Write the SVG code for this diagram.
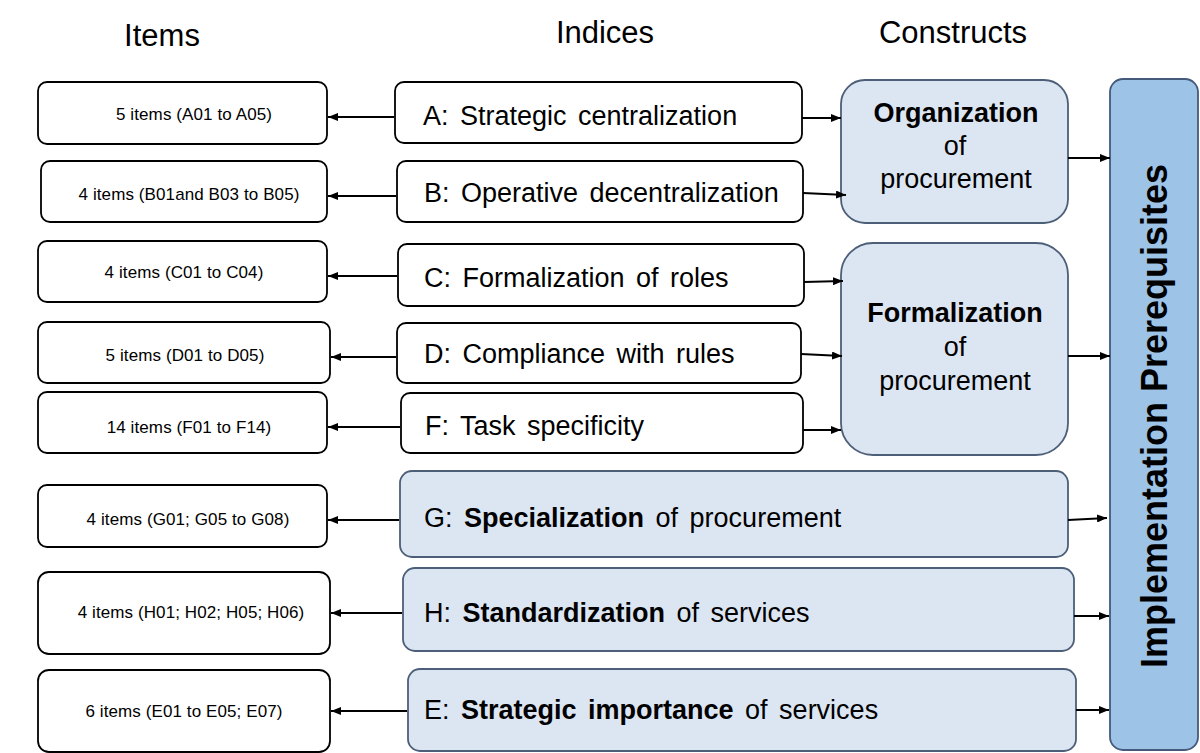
<svg xmlns="http://www.w3.org/2000/svg" width="1200" height="753" viewBox="0 0 1200 753">
<style>
text{font-family:"Liberation Sans",Arial,sans-serif;fill:#000}
.hdr{font-size:31px;text-anchor:middle}
.item{fill:#fff;stroke:#000;stroke-width:1.8}
.itxt{font-size:17px;text-anchor:middle;letter-spacing:0.1px}
.idx{fill:#fff;stroke:#000;stroke-width:1.8}
.idxl{fill:#dce6f2;stroke:#4d5f78;stroke-width:1.8}
.xtxt{font-size:27px;word-spacing:4px}
.con{fill:#dce6f2;stroke:#4d5f78;stroke-width:1.8}
.ctxt{font-size:27px;text-anchor:middle}
.b{font-weight:bold}
.ip{fill:#9dc3e6;stroke:#45597a;stroke-width:1.8}
#connectors line{stroke:#000;stroke-width:2;marker-end:url(#ah)}
</style>
<defs>
<marker id="ah" viewBox="0 0 10 8" refX="10" refY="4" markerWidth="10" markerHeight="8" markerUnits="userSpaceOnUse" orient="auto">
<path d="M0,0 L10,4 L0,8 Z" fill="#000"/>
</marker>
</defs>
<rect width="1200" height="753" fill="#fff"/>
<g id="headers">
<text class="hdr" x="162" y="46">Items</text>
<text class="hdr" x="605" y="43">Indices</text>
<text class="hdr" x="953" y="43">Constructs</text>
</g>
<g id="items">
<g id="item-A"><rect class="item" x="38" y="82" width="289" height="62" rx="9"/><text class="itxt" x="194" y="120">5 items (A01 to A05)</text></g>
<g id="item-B"><rect class="item" x="41" y="161" width="286" height="61" rx="9"/><text class="itxt" x="189" y="200">4 items (B01and B03 to B05)</text></g>
<g id="item-C"><rect class="item" x="38" y="241" width="289" height="61" rx="9"/><text class="itxt" x="184" y="278">4 items (C01 to C04)</text></g>
<g id="item-D"><rect class="item" x="38" y="322" width="292" height="61" rx="9"/><text class="itxt" x="185" y="361">5 items (D01 to D05)</text></g>
<g id="item-F"><rect class="item" x="38" y="392" width="289" height="61" rx="9"/><text class="itxt" x="189" y="433">14 items (F01 to F14)</text></g>
<g id="item-G"><rect class="item" x="38" y="485" width="289" height="62" rx="9"/><text class="itxt" x="188" y="525">4 items (G01; G05 to G08)</text></g>
<g id="item-H"><rect class="item" x="38" y="572" width="292" height="82" rx="11"/><text class="itxt" x="191" y="618">4 items (H01; H02; H05; H06)</text></g>
<g id="item-E"><rect class="item" x="38" y="670" width="292" height="82" rx="11"/><text class="itxt" x="184" y="717">6 items (E01 to E05; E07)</text></g>
</g>
<g id="indices">
<g id="index-A"><rect class="idx" x="395" y="82" width="407" height="61" rx="9"/><text class="xtxt" x="423" y="125">A: Strategic centralization</text></g>
<g id="index-B"><rect class="idx" x="397" y="161" width="406" height="61" rx="9"/><text class="xtxt" x="424" y="202">B: Operative decentralization</text></g>
<g id="index-C"><rect class="idx" x="398" y="244" width="406" height="62" rx="9"/><text class="xtxt" x="424" y="287">C: Formalization of roles</text></g>
<g id="index-D"><rect class="idx" x="397" y="323" width="404" height="60" rx="9"/><text class="xtxt" x="424" y="363">D: Compliance with rules</text></g>
<g id="index-F"><rect class="idx" x="401" y="393" width="402" height="60" rx="9"/><text class="xtxt" x="425" y="435">F: Task specificity</text></g>
<g id="index-G"><rect class="idxl" x="400" y="471" width="668" height="86" rx="12"/><text class="xtxt" x="424" y="527">G: <tspan class="b">Specialization</tspan> of procurement</text></g>
<g id="index-H"><rect class="idxl" x="403" y="568" width="671" height="83" rx="12"/><text class="xtxt" x="424" y="622">H: <tspan class="b">Standardization</tspan> of services</text></g>
<g id="index-E"><rect class="idxl" x="408" y="669" width="668" height="82" rx="12"/><text class="xtxt" x="424" y="719">E: <tspan class="b">Strategic importance</tspan> of services</text></g>
</g>
<g id="constructs">
<g id="construct-organization"><rect class="con" x="841" y="80" width="227" height="143" rx="24"/>
<text class="ctxt b" x="956" y="122">Organization</text><text class="ctxt" x="955" y="155">of</text><text class="ctxt" x="956" y="188">procurement</text></g>
<g id="construct-formalization"><rect class="con" x="841" y="243" width="227" height="212" rx="32"/>
<text class="ctxt b" x="955" y="322">Formalization</text><text class="ctxt" x="955" y="356">of</text><text class="ctxt" x="955" y="390">procurement</text></g>
</g>
<g id="implementation-prerequisites"><rect class="ip" x="1110" y="79" width="88" height="671" rx="13"/>
<text class="b" x="0" y="0" font-size="36" text-anchor="middle" transform="translate(1167,416) rotate(-90)">Implementation Prerequisites</text></g>
<g id="connectors">
<line x1="394" y1="117" x2="328" y2="117"/>
<line x1="396" y1="196" x2="328" y2="196"/>
<line x1="397" y1="276" x2="328" y2="276"/>
<line x1="396" y1="357" x2="331" y2="357"/>
<line x1="400" y1="427" x2="328" y2="427"/>
<line x1="399" y1="520" x2="328" y2="520"/>
<line x1="402" y1="613" x2="331" y2="613"/>
<line x1="407" y1="711" x2="331" y2="711"/>
<line x1="802" y1="118" x2="841" y2="118"/>
<line x1="803" y1="193" x2="846" y2="195"/>
<line x1="804" y1="282" x2="843" y2="281"/>
<line x1="801" y1="354" x2="842" y2="356"/>
<line x1="803" y1="430" x2="841" y2="430"/>
<line x1="1068" y1="158" x2="1110" y2="158"/>
<line x1="1068" y1="356" x2="1110" y2="356"/>
<line x1="1068" y1="520" x2="1107" y2="518"/>
<line x1="1074" y1="616" x2="1109" y2="616"/>
<line x1="1076" y1="710" x2="1109" y2="710"/>
</g>
</svg>
